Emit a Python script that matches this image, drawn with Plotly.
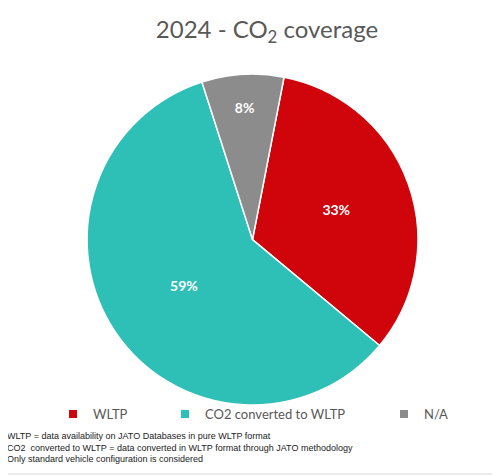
import plotly.graph_objects as go

# Chart data
categories = ["WLTP", "CO2 converted to WLTP", "N/A"]
shares = [33, 59, 8]
colors = ["#D0040B", "#2EBFB7", "#8C8C8C"]
footnotes = [
    "WLTP = data availability on JATO Databases in pure WLTP format",
    "CO2  converted to WLTP = data converted in WLTP format through JATO methodology",
    "Only standard vehicle configuration is considered",
]

fig = go.Figure()

fig.add_trace(go.Pie(
    labels=categories,
    values=shares,
    marker=dict(colors=colors, line=dict(color="white", width=1.5)),
    sort=False,
    direction="clockwise",
    rotation=11,
    texttemplate="%{percent:.0%}",
    textposition="inside",
    insidetextorientation="horizontal",
    textfont=dict(family="Lato", size=14, color="white", weight="bold"),
    domain=dict(x=[0.158, 0.820], y=[0.166, 0.861]),
    showlegend=False,
    hoverinfo="label+percent",
))

# legend entries, one legend each so the spacing can follow the original
legend_x = [0.090, 0.314, 0.752]
legend_names = ["legend", "legend2", "legend3"]
for name, col, lg in zip(categories, colors, legend_names):
    fig.add_trace(go.Scatter(
        x=[None], y=[None], mode="markers", name=name,
        marker=dict(symbol="square", size=8, color=col),
        legend=lg, showlegend=True, hoverinfo="skip",
    ))

legend_style = dict(
    orientation="h", yanchor="middle", y=0.147, xanchor="left",
    font=dict(family="Lato", size=13, color="#595959"),
    bgcolor="rgba(0,0,0,0)", itemclick=False, itemdoubleclick=False,
)

fig.update_layout(
    width=500, height=476,
    margin=dict(l=0, r=0, t=0, b=0),
    paper_bgcolor="white",
    plot_bgcolor="white",
    title=dict(
        text="2024 - CO<sub>2</sub> coverage",
        x=0.518, xanchor="center", y=0.954, yanchor="middle",
        font=dict(family="Lato", size=24, color="#595959"),
    ),
    xaxis=dict(visible=False),
    yaxis=dict(visible=False),
    legend=dict(x=legend_x[0], **legend_style),
    legend2=dict(x=legend_x[1], **legend_style),
    legend3=dict(x=legend_x[2], **legend_style),
    showlegend=True,
)

fig.add_annotation(
    text="<br>".join(footnotes),
    xref="paper", yref="paper", x=-0.006, y=0.1155,
    xanchor="left", yanchor="top", align="left", showarrow=False,
    font=dict(family="Liberation Sans", size=9, color="#222222"),
)

# light chart-area border (right and bottom edges)
fig.add_shape(type="line", xref="paper", yref="paper", x0=0.98, x1=0.98, y0=0.021, y1=1,
              line=dict(color="#D9D9D9", width=1))
fig.add_shape(type="line", xref="paper", yref="paper", x0=0, x1=0.98, y0=0.021, y1=0.021,
              line=dict(color="#D9D9D9", width=1))

fig.write_html("out.html")
